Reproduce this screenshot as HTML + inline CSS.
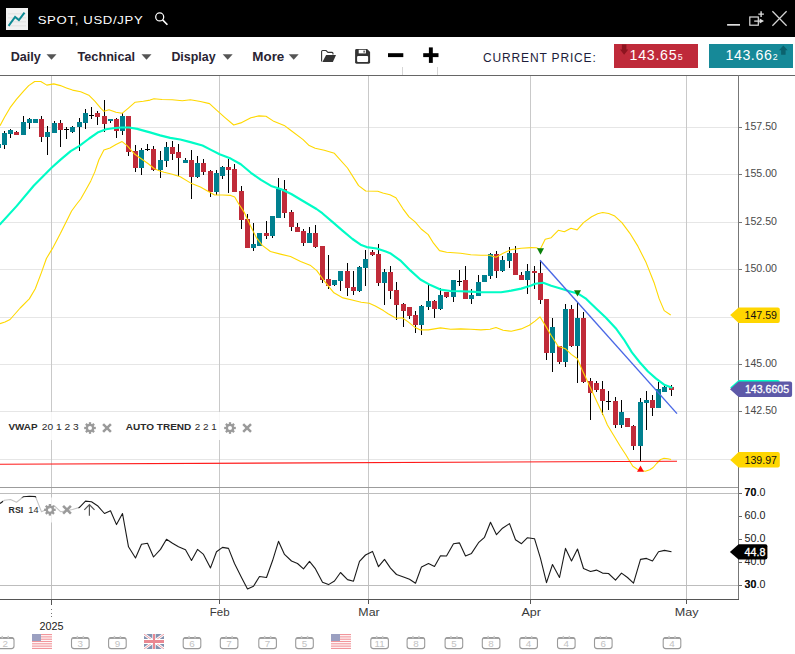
<!DOCTYPE html><html><head><meta charset="utf-8"><title>SPOT, USD/JPY</title>
<style>html,body{margin:0;padding:0;background:#fff;overflow:hidden}svg{display:block}text{font-family:"Liberation Sans",sans-serif}</style></head><body>
<svg width="795" height="654" viewBox="0 0 795 654">
<rect width="795" height="654" fill="#fff"/>
<g shape-rendering="crispEdges">
<rect x="0" y="127" width="738" height="1" fill="#e6e6e6"/>
<rect x="0" y="174" width="738" height="1" fill="#e6e6e6"/>
<rect x="0" y="222" width="738" height="1" fill="#e6e6e6"/>
<rect x="0" y="269" width="738" height="1" fill="#e6e6e6"/>
<rect x="0" y="317" width="738" height="1" fill="#e6e6e6"/>
<rect x="0" y="364" width="738" height="1" fill="#e6e6e6"/>
<rect x="0" y="411" width="738" height="1" fill="#e6e6e6"/>
<rect x="0" y="459" width="738" height="1" fill="#e6e6e6"/>
<rect x="51" y="76" width="1" height="411" fill="#c9c9c9"/>
<rect x="219" y="76" width="1" height="411" fill="#c9c9c9"/>
<rect x="368" y="76" width="1" height="411" fill="#c9c9c9"/>
<rect x="530" y="76" width="1" height="411" fill="#c9c9c9"/>
<rect x="686" y="76" width="1" height="411" fill="#c9c9c9"/>
<rect x="51" y="488" width="1" height="111" fill="#c0c0c0"/>
<rect x="219" y="488" width="1" height="111" fill="#c0c0c0"/>
<rect x="368" y="488" width="1" height="111" fill="#c0c0c0"/>
<rect x="530" y="488" width="1" height="111" fill="#c0c0c0"/>
<rect x="686" y="488" width="1" height="111" fill="#c0c0c0"/>
</g>
<g shape-rendering="crispEdges">
<rect x="-2" y="144" width="1" height="4" fill="#000"/>
<rect x="-4" y="144" width="5" height="4" fill="#00808f"/>
<rect x="4" y="131" width="1" height="18" fill="#000"/>
<rect x="2" y="133" width="5" height="12" fill="#00808f"/>
<rect x="10" y="129" width="1" height="9" fill="#000"/>
<rect x="8" y="130" width="5" height="4" fill="#00808f"/>
<rect x="16" y="131" width="1" height="4" fill="#000"/>
<rect x="14" y="132" width="5" height="3" fill="#c02b39"/>
<rect x="23" y="116" width="1" height="19" fill="#000"/>
<rect x="21" y="122" width="5" height="13" fill="#00808f"/>
<rect x="29" y="118" width="1" height="11" fill="#000"/>
<rect x="27" y="119" width="5" height="4" fill="#00808f"/>
<rect x="35" y="119" width="1" height="4" fill="#000"/>
<rect x="33" y="119" width="5" height="4" fill="#00808f"/>
<rect x="41" y="116" width="1" height="26" fill="#000"/>
<rect x="39" y="119" width="5" height="18" fill="#c02b39"/>
<rect x="47" y="126" width="1" height="29" fill="#000"/>
<rect x="45" y="132" width="5" height="5" fill="#00808f"/>
<rect x="54" y="121" width="1" height="12" fill="#000"/>
<rect x="52" y="123" width="5" height="10" fill="#00808f"/>
<rect x="60" y="120" width="1" height="27" fill="#000"/>
<rect x="58" y="123" width="5" height="7" fill="#c02b39"/>
<rect x="66" y="127" width="1" height="12" fill="#000"/>
<rect x="64" y="129" width="5" height="1" fill="#000"/>
<rect x="72" y="126" width="1" height="7" fill="#000"/>
<rect x="70" y="127" width="5" height="5" fill="#00808f"/>
<rect x="79" y="118" width="1" height="33" fill="#000"/>
<rect x="77" y="122" width="5" height="5" fill="#00808f"/>
<rect x="85" y="109" width="1" height="20" fill="#000"/>
<rect x="83" y="113" width="5" height="10" fill="#00808f"/>
<rect x="91" y="107" width="1" height="12" fill="#000"/>
<rect x="89" y="115" width="5" height="1" fill="#000"/>
<rect x="97" y="111" width="1" height="14" fill="#000"/>
<rect x="95" y="113" width="5" height="4" fill="#c02b39"/>
<rect x="104" y="100" width="1" height="32" fill="#000"/>
<rect x="102" y="116" width="5" height="8" fill="#c02b39"/>
<rect x="110" y="119" width="1" height="4" fill="#000"/>
<rect x="108" y="119" width="5" height="2" fill="#00808f"/>
<rect x="116" y="118" width="1" height="20" fill="#000"/>
<rect x="114" y="119" width="5" height="12" fill="#c02b39"/>
<rect x="122" y="113" width="1" height="22" fill="#000"/>
<rect x="120" y="116" width="5" height="15" fill="#00808f"/>
<rect x="128" y="116" width="1" height="40" fill="#000"/>
<rect x="126" y="116" width="5" height="36" fill="#c02b39"/>
<rect x="135" y="145" width="1" height="27" fill="#000"/>
<rect x="133" y="151" width="5" height="17" fill="#c02b39"/>
<rect x="141" y="148" width="1" height="27" fill="#000"/>
<rect x="139" y="150" width="5" height="18" fill="#00808f"/>
<rect x="147" y="144" width="1" height="7" fill="#000"/>
<rect x="145" y="149" width="5" height="1" fill="#000"/>
<rect x="153" y="146" width="1" height="25" fill="#000"/>
<rect x="151" y="149" width="5" height="21" fill="#c02b39"/>
<rect x="160" y="151" width="1" height="27" fill="#000"/>
<rect x="158" y="160" width="5" height="10" fill="#00808f"/>
<rect x="166" y="142" width="1" height="25" fill="#000"/>
<rect x="164" y="147" width="5" height="14" fill="#00808f"/>
<rect x="172" y="141" width="1" height="19" fill="#000"/>
<rect x="170" y="147" width="5" height="7" fill="#c02b39"/>
<rect x="178" y="144" width="1" height="32" fill="#000"/>
<rect x="176" y="152" width="5" height="6" fill="#c02b39"/>
<rect x="185" y="158" width="1" height="5" fill="#000"/>
<rect x="183" y="160" width="5" height="3" fill="#00808f"/>
<rect x="191" y="150" width="1" height="49" fill="#000"/>
<rect x="189" y="160" width="5" height="17" fill="#c02b39"/>
<rect x="197" y="156" width="1" height="22" fill="#000"/>
<rect x="195" y="163" width="5" height="14" fill="#00808f"/>
<rect x="203" y="159" width="1" height="16" fill="#000"/>
<rect x="201" y="163" width="5" height="9" fill="#c02b39"/>
<rect x="210" y="170" width="1" height="27" fill="#000"/>
<rect x="208" y="171" width="5" height="21" fill="#c02b39"/>
<rect x="216" y="170" width="1" height="25" fill="#000"/>
<rect x="214" y="173" width="5" height="19" fill="#00808f"/>
<rect x="222" y="166" width="1" height="13" fill="#000"/>
<rect x="220" y="167" width="5" height="9" fill="#00808f"/>
<rect x="228" y="159" width="1" height="34" fill="#000"/>
<rect x="226" y="167" width="5" height="3" fill="#c02b39"/>
<rect x="234" y="164" width="1" height="28" fill="#000"/>
<rect x="232" y="169" width="5" height="23" fill="#c02b39"/>
<rect x="241" y="186" width="1" height="43" fill="#000"/>
<rect x="239" y="191" width="5" height="29" fill="#c02b39"/>
<rect x="247" y="214" width="1" height="34" fill="#000"/>
<rect x="245" y="219" width="5" height="29" fill="#c02b39"/>
<rect x="253" y="223" width="1" height="28" fill="#000"/>
<rect x="251" y="244" width="5" height="4" fill="#00808f"/>
<rect x="259" y="233" width="1" height="13" fill="#000"/>
<rect x="257" y="233" width="5" height="13" fill="#00808f"/>
<rect x="266" y="221" width="1" height="18" fill="#000"/>
<rect x="264" y="233" width="5" height="3" fill="#c02b39"/>
<rect x="272" y="216" width="1" height="22" fill="#000"/>
<rect x="270" y="216" width="5" height="20" fill="#00808f"/>
<rect x="278" y="178" width="1" height="40" fill="#000"/>
<rect x="276" y="189" width="5" height="29" fill="#00808f"/>
<rect x="284" y="180" width="1" height="38" fill="#000"/>
<rect x="282" y="189" width="5" height="24" fill="#c02b39"/>
<rect x="291" y="210" width="1" height="21" fill="#000"/>
<rect x="289" y="212" width="5" height="15" fill="#c02b39"/>
<rect x="297" y="223" width="1" height="9" fill="#000"/>
<rect x="295" y="227" width="5" height="5" fill="#c02b39"/>
<rect x="303" y="229" width="1" height="17" fill="#000"/>
<rect x="301" y="231" width="5" height="12" fill="#c02b39"/>
<rect x="309" y="227" width="1" height="16" fill="#000"/>
<rect x="307" y="233" width="5" height="10" fill="#00808f"/>
<rect x="315" y="225" width="1" height="23" fill="#000"/>
<rect x="313" y="233" width="5" height="14" fill="#c02b39"/>
<rect x="322" y="246" width="1" height="37" fill="#000"/>
<rect x="320" y="246" width="5" height="34" fill="#c02b39"/>
<rect x="328" y="255" width="1" height="34" fill="#000"/>
<rect x="326" y="279" width="5" height="7" fill="#c02b39"/>
<rect x="334" y="280" width="1" height="6" fill="#000"/>
<rect x="332" y="280" width="5" height="5" fill="#00808f"/>
<rect x="340" y="271" width="1" height="20" fill="#000"/>
<rect x="338" y="271" width="5" height="10" fill="#00808f"/>
<rect x="347" y="263" width="1" height="33" fill="#000"/>
<rect x="345" y="271" width="5" height="17" fill="#c02b39"/>
<rect x="353" y="271" width="1" height="24" fill="#000"/>
<rect x="351" y="287" width="5" height="4" fill="#c02b39"/>
<rect x="359" y="266" width="1" height="26" fill="#000"/>
<rect x="357" y="267" width="5" height="24" fill="#00808f"/>
<rect x="365" y="250" width="1" height="36" fill="#000"/>
<rect x="363" y="259" width="5" height="9" fill="#00808f"/>
<rect x="372" y="250" width="1" height="6" fill="#000"/>
<rect x="370" y="252" width="5" height="3" fill="#c02b39"/>
<rect x="378" y="244" width="1" height="42" fill="#000"/>
<rect x="376" y="254" width="5" height="29" fill="#c02b39"/>
<rect x="384" y="269" width="1" height="36" fill="#000"/>
<rect x="382" y="272" width="5" height="11" fill="#00808f"/>
<rect x="390" y="266" width="1" height="33" fill="#000"/>
<rect x="388" y="272" width="5" height="19" fill="#c02b39"/>
<rect x="396" y="282" width="1" height="38" fill="#000"/>
<rect x="394" y="290" width="5" height="15" fill="#c02b39"/>
<rect x="403" y="303" width="1" height="24" fill="#000"/>
<rect x="401" y="304" width="5" height="7" fill="#c02b39"/>
<rect x="409" y="307" width="1" height="12" fill="#000"/>
<rect x="407" y="307" width="5" height="9" fill="#c02b39"/>
<rect x="415" y="311" width="1" height="22" fill="#000"/>
<rect x="413" y="315" width="5" height="10" fill="#c02b39"/>
<rect x="421" y="305" width="1" height="30" fill="#000"/>
<rect x="419" y="306" width="5" height="19" fill="#00808f"/>
<rect x="428" y="284" width="1" height="26" fill="#000"/>
<rect x="426" y="301" width="5" height="6" fill="#00808f"/>
<rect x="434" y="300" width="1" height="18" fill="#000"/>
<rect x="432" y="301" width="5" height="8" fill="#c02b39"/>
<rect x="440" y="288" width="1" height="22" fill="#000"/>
<rect x="438" y="295" width="5" height="14" fill="#00808f"/>
<rect x="446" y="292" width="1" height="6" fill="#000"/>
<rect x="444" y="292" width="5" height="5" fill="#c02b39"/>
<rect x="453" y="280" width="1" height="22" fill="#000"/>
<rect x="451" y="280" width="5" height="17" fill="#00808f"/>
<rect x="459" y="270" width="1" height="16" fill="#000"/>
<rect x="457" y="281" width="5" height="1" fill="#000"/>
<rect x="465" y="266" width="1" height="33" fill="#000"/>
<rect x="463" y="280" width="5" height="19" fill="#c02b39"/>
<rect x="471" y="289" width="1" height="15" fill="#000"/>
<rect x="469" y="295" width="5" height="4" fill="#00808f"/>
<rect x="478" y="275" width="1" height="21" fill="#000"/>
<rect x="476" y="282" width="5" height="14" fill="#00808f"/>
<rect x="484" y="275" width="1" height="7" fill="#000"/>
<rect x="482" y="275" width="5" height="7" fill="#00808f"/>
<rect x="490" y="253" width="1" height="26" fill="#000"/>
<rect x="488" y="254" width="5" height="22" fill="#00808f"/>
<rect x="496" y="251" width="1" height="27" fill="#000"/>
<rect x="494" y="254" width="5" height="17" fill="#c02b39"/>
<rect x="502" y="256" width="1" height="16" fill="#000"/>
<rect x="500" y="260" width="5" height="11" fill="#00808f"/>
<rect x="509" y="247" width="1" height="21" fill="#000"/>
<rect x="507" y="253" width="5" height="8" fill="#00808f"/>
<rect x="515" y="246" width="1" height="29" fill="#000"/>
<rect x="513" y="253" width="5" height="22" fill="#c02b39"/>
<rect x="521" y="272" width="1" height="8" fill="#000"/>
<rect x="519" y="275" width="5" height="5" fill="#c02b39"/>
<rect x="527" y="264" width="1" height="30" fill="#000"/>
<rect x="525" y="271" width="5" height="9" fill="#00808f"/>
<rect x="534" y="266" width="1" height="23" fill="#000"/>
<rect x="532" y="271" width="5" height="2" fill="#c02b39"/>
<rect x="540" y="260" width="1" height="44" fill="#000"/>
<rect x="538" y="273" width="5" height="27" fill="#c02b39"/>
<rect x="546" y="299" width="1" height="61" fill="#000"/>
<rect x="544" y="299" width="5" height="54" fill="#c02b39"/>
<rect x="552" y="318" width="1" height="54" fill="#000"/>
<rect x="550" y="327" width="5" height="26" fill="#00808f"/>
<rect x="559" y="346" width="1" height="18" fill="#000"/>
<rect x="557" y="346" width="5" height="16" fill="#c02b39"/>
<rect x="565" y="304" width="1" height="63" fill="#000"/>
<rect x="563" y="309" width="5" height="53" fill="#00808f"/>
<rect x="571" y="305" width="1" height="42" fill="#000"/>
<rect x="569" y="309" width="5" height="37" fill="#c02b39"/>
<rect x="577" y="302" width="1" height="81" fill="#000"/>
<rect x="575" y="318" width="5" height="28" fill="#00808f"/>
<rect x="583" y="312" width="1" height="71" fill="#000"/>
<rect x="581" y="318" width="5" height="64" fill="#c02b39"/>
<rect x="590" y="378" width="1" height="42" fill="#000"/>
<rect x="588" y="381" width="5" height="12" fill="#c02b39"/>
<rect x="596" y="381" width="1" height="11" fill="#000"/>
<rect x="594" y="383" width="5" height="7" fill="#c02b39"/>
<rect x="602" y="381" width="1" height="34" fill="#000"/>
<rect x="600" y="389" width="5" height="12" fill="#c02b39"/>
<rect x="608" y="391" width="1" height="19" fill="#000"/>
<rect x="606" y="401" width="5" height="1" fill="#000"/>
<rect x="615" y="397" width="1" height="31" fill="#000"/>
<rect x="613" y="401" width="5" height="24" fill="#c02b39"/>
<rect x="621" y="400" width="1" height="28" fill="#000"/>
<rect x="619" y="412" width="5" height="13" fill="#00808f"/>
<rect x="627" y="418" width="1" height="9" fill="#000"/>
<rect x="625" y="418" width="5" height="9" fill="#c02b39"/>
<rect x="633" y="425" width="1" height="25" fill="#000"/>
<rect x="631" y="426" width="5" height="20" fill="#c02b39"/>
<rect x="640" y="398" width="1" height="63" fill="#000"/>
<rect x="638" y="402" width="5" height="44" fill="#00808f"/>
<rect x="646" y="391" width="1" height="39" fill="#000"/>
<rect x="644" y="400" width="5" height="3" fill="#00808f"/>
<rect x="652" y="395" width="1" height="21" fill="#000"/>
<rect x="650" y="400" width="5" height="8" fill="#c02b39"/>
<rect x="658" y="382" width="1" height="26" fill="#000"/>
<rect x="656" y="389" width="5" height="19" fill="#00808f"/>
<rect x="664" y="386" width="1" height="6" fill="#000"/>
<rect x="662" y="387" width="5" height="5" fill="#00808f"/>
<rect x="671" y="385" width="1" height="11" fill="#000"/>
<rect x="669" y="387" width="5" height="3" fill="#c02b39"/>
</g>
<polyline points="0.0,125.8 4.5,117.3 10.1,107.7 16.6,99.2 23.6,91.1 28.7,85.6 34.7,81.5 40.8,81.5 46.8,85.1 53.8,83.9 60.4,85.6 66.4,87.9 72.5,90.1 80.7,91.7 88.8,95.2 94.8,101.2 100.9,108.3 103.9,111.3 109.0,109.7 116.0,112.3 122.1,113.3 128.1,108.3 135.2,102.2 143.3,101.2 150.0,100.1 154.0,98.7 162.1,99.5 172.2,99.7 182.3,100.7 190.4,99.7 200.4,101.5 209.5,103.6 216.6,110.2 224.7,117.3 233.7,125.0 240.8,122.9 250.9,117.7 259.0,115.9 266.0,116.3 273.1,120.9 284.2,125.4 290.0,129.7 303.1,139.6 309.2,145.6 315.2,148.2 324.3,150.3 334.4,153.3 347.5,168.0 358.6,185.6 365.7,191.0 377.8,191.2 382.8,193.0 389.9,194.7 395.9,197.7 403.0,208.8 409.0,216.9 415.1,221.9 421.2,229.0 428.2,234.6 433.5,243.2 439.5,250.6 446.6,252.2 460.7,253.2 470.8,254.7 480.9,255.3 489.0,255.3 496.0,257.3 503.1,253.2 511.2,249.6 521.2,248.2 531.3,247.6 536.4,247.8 540.1,249.4 545.2,239.3 551.2,237.7 558.3,230.3 564.3,231.7 571.0,228.2 577.1,229.9 583.5,222.6 591.6,216.7 597.6,213.7 602.7,212.5 608.7,213.5 614.8,216.1 621.9,222.6 629.9,233.3 638.0,246.4 646.1,262.6 654.1,282.7 659.2,298.9 664.2,310.6 670.7,315.0" fill="none" stroke="#ffd800" stroke-width="1.1" stroke-linejoin="round"/>
<polyline points="0.0,323.7 5.0,322.1 10.1,319.5 20.2,308.0 29.3,298.9 35.3,288.8 41.4,272.6 46.4,258.5 52.5,248.4 60.5,233.3 71.6,211.0 76.0,205.0 80.7,199.0 85.8,190.0 90.8,180.9 94.8,171.9 98.9,159.7 103.9,150.1 110.0,148.0 116.0,144.6 122.1,141.6 127.1,145.6 134.2,153.7 141.2,158.7 148.3,163.8 154.4,168.8 160.0,171.0 164.1,172.2 172.2,174.2 180.3,176.8 190.4,182.9 200.4,186.9 207.5,190.9 214.6,195.0 222.6,195.0 230.7,195.4 234.7,197.0 238.8,204.0 244.1,212.1 250.2,225.2 256.2,237.3 262.3,245.4 270.4,251.5 280.4,254.1 290.5,256.5 300.6,261.5 310.7,265.6 316.8,270.6 324.8,281.7 333.9,292.8 343.0,297.9 353.1,300.3 361.2,302.3 369.2,303.3 375.3,305.9 383.4,310.6 388.1,313.8 396.1,318.2 402.2,317.8 408.2,321.9 414.3,326.9 420.4,329.9 428.4,329.9 440.5,327.9 450.6,329.3 460.7,328.9 470.8,329.3 480.9,329.9 490.0,329.3 496.0,327.5 503.1,330.3 511.2,331.3 521.2,328.9 529.3,325.3 535.0,321.1 540.0,316.8 545.1,325.1 551.1,335.2 558.2,346.3 565.3,348.7 571.3,354.4 577.4,358.8 582.4,370.5 588.5,383.6 595.5,398.8 603.6,415.9 607.4,425.0 613.6,435.2 620.4,446.5 626.0,455.0 630.0,461.8 632.8,466.3 637.4,469.2 640.8,470.3 645.3,471.2 649.8,469.7 653.2,467.5 656.6,463.5 660.6,459.5 664.0,458.2 667.9,458.7 671.1,459.5" fill="none" stroke="#ffd800" stroke-width="1.1" stroke-linejoin="round"/>
<polyline points="0.0,224.4 16.8,205.9 33.7,185.7 51.3,168.0 60.6,159.6 70.7,151.1 79.1,146.1 89.2,138.5 97.6,132.6 106.1,129.3 113.0,128.3 121.1,127.5 129.1,127.5 137.2,128.9 145.3,131.1 150.0,132.4 160.1,135.4 170.2,137.9 180.3,139.5 190.4,142.1 202.5,145.5 210.5,149.6 219.6,154.2 230.7,158.6 240.8,164.3 250.9,172.8 261.0,179.8 271.1,185.9 281.2,189.3 291.3,194.0 301.3,200.0 316.5,209.0 322.3,213.2 332.4,221.9 342.5,230.6 352.5,239.0 360.6,244.7 366.7,247.1 376.8,248.5 385.8,251.6 390.1,253.2 400.2,260.3 410.3,270.4 420.4,279.5 430.4,285.1 440.5,289.6 450.6,291.0 460.7,291.2 470.8,291.6 480.9,292.2 491.0,292.2 501.1,292.2 511.2,290.6 521.2,288.6 531.3,285.5 535.1,283.7 543.2,282.7 551.2,285.8 561.3,288.8 569.4,291.2 578.5,293.8 585.5,298.3 595.6,308.0 605.7,317.5 615.7,328.2 623.8,339.3 631.9,352.4 639.9,362.5 648.0,371.5 656.1,378.6 664.1,384.7 671.5,387.5" fill="none" stroke="#00fcc6" stroke-width="2.15" stroke-linejoin="round" stroke-linecap="round"/>
<line x1="540" y1="260.2" x2="677" y2="413.6" stroke="#4a68e6" stroke-width="1.4"/>
<line x1="0" y1="464.3" x2="677" y2="461.2" stroke="#ff1a1a" stroke-width="1.1"/>
<polygon points="537,248.3 544,248.3 540.5,254.8" fill="#0a800a"/>
<polygon points="574,290.3 581,290.3 577.5,296.6" fill="#0a800a"/>
<polygon points="637,471.8 644,471.8 640.5,465.5" fill="#ff0a0a"/>
<rect x="3" y="412" width="112" height="28" fill="#fff" fill-opacity="0.85"/>
<rect x="120" y="412" width="136" height="28" fill="#fff" fill-opacity="0.85"/>
<text x="8.5" y="429.9" font-size="9.6" font-weight="bold" fill="#2b2b2b" textLength="29.1" lengthAdjust="spacingAndGlyphs">VWAP</text>
<text x="41.7" y="429.9" font-size="9.6" fill="#2b2b2b" textLength="37" lengthAdjust="spacingAndGlyphs">20 1 2 3</text>
<g transform="translate(90,428)" fill="#9a9a9a"><rect x="-1.15" y="-5.8" width="2.3" height="3" transform="rotate(0)"/><rect x="-1.15" y="-5.8" width="2.3" height="3" transform="rotate(45)"/><rect x="-1.15" y="-5.8" width="2.3" height="3" transform="rotate(90)"/><rect x="-1.15" y="-5.8" width="2.3" height="3" transform="rotate(135)"/><rect x="-1.15" y="-5.8" width="2.3" height="3" transform="rotate(180)"/><rect x="-1.15" y="-5.8" width="2.3" height="3" transform="rotate(225)"/><rect x="-1.15" y="-5.8" width="2.3" height="3" transform="rotate(270)"/><rect x="-1.15" y="-5.8" width="2.3" height="3" transform="rotate(315)"/><circle r="3.15" fill="none" stroke="#9a9a9a" stroke-width="2.3"/></g>
<g stroke="#9a9a9a" stroke-width="2.5" stroke-linecap="butt"><line x1="103.1" y1="424.1" x2="110.9" y2="431.9"/><line x1="103.1" y1="431.9" x2="110.9" y2="424.1"/></g>
<text x="125.8" y="429.9" font-size="9.6" font-weight="bold" fill="#2b2b2b" textLength="65.5" lengthAdjust="spacingAndGlyphs">AUTO TREND</text>
<text x="194.8" y="429.9" font-size="9.6" fill="#2b2b2b" textLength="22" lengthAdjust="spacingAndGlyphs">2 2 1</text>
<g transform="translate(230,428)" fill="#9a9a9a"><rect x="-1.15" y="-5.8" width="2.3" height="3" transform="rotate(0)"/><rect x="-1.15" y="-5.8" width="2.3" height="3" transform="rotate(45)"/><rect x="-1.15" y="-5.8" width="2.3" height="3" transform="rotate(90)"/><rect x="-1.15" y="-5.8" width="2.3" height="3" transform="rotate(135)"/><rect x="-1.15" y="-5.8" width="2.3" height="3" transform="rotate(180)"/><rect x="-1.15" y="-5.8" width="2.3" height="3" transform="rotate(225)"/><rect x="-1.15" y="-5.8" width="2.3" height="3" transform="rotate(270)"/><rect x="-1.15" y="-5.8" width="2.3" height="3" transform="rotate(315)"/><circle r="3.15" fill="none" stroke="#9a9a9a" stroke-width="2.3"/></g>
<g stroke="#9a9a9a" stroke-width="2.5" stroke-linecap="butt"><line x1="243.2" y1="424.1" x2="251.0" y2="431.9"/><line x1="243.2" y1="431.9" x2="251.0" y2="424.1"/></g>
<g shape-rendering="crispEdges">
<rect x="0" y="487" width="738" height="1" fill="#9c9c9c"/>
<rect x="0" y="493" width="738" height="1" fill="#bdbdbd"/>
<rect x="0" y="585" width="738" height="1" fill="#bdbdbd"/>
</g>
<polyline points="0.0,503.5 4.5,500.3 10.5,499.5 16.5,502.2 23.5,496.7 29.5,496.3 35.5,496.6 41.5,511.8 47.5,508.9 54.5,505.8 60.5,511.7 66.5,510.8 72.5,509.5 79.5,507.4 85.5,501.1 91.5,501.7 97.5,505.7 104.5,513.5 110.5,510.7 116.5,524.6 122.5,513.5 128.5,546.8 135.5,558.0 141.5,544.3 147.5,543.3 153.5,557.0 160.5,549.4 166.5,539.3 172.5,543.3 178.5,546.8 185.5,549.8 191.5,560.4 197.5,549.4 203.5,554.4 210.5,567.9 216.5,551.8 222.5,547.4 228.5,548.4 234.5,563.5 241.5,577.5 247.5,589.0 253.5,586.2 259.5,576.5 266.5,577.5 272.5,560.8 278.5,541.3 284.5,554.4 291.5,561.0 297.5,563.5 303.5,568.9 309.5,561.4 315.5,568.9 322.5,582.2 328.5,584.6 334.5,581.0 340.5,572.5 347.5,579.6 353.5,581.2 359.5,561.4 365.5,555.0 372.5,551.4 378.5,566.7 384.5,559.4 390.5,568.1 396.5,574.5 403.5,576.9 409.5,579.2 415.5,583.2 421.5,566.9 428.5,563.5 434.5,566.5 440.5,555.8 446.5,556.0 453.5,543.7 459.5,542.9 465.5,556.0 471.5,553.4 478.5,542.7 484.5,537.3 490.5,522.2 496.5,534.7 502.5,528.2 509.5,523.6 515.5,539.7 521.5,543.7 527.5,537.7 534.5,538.7 540.5,558.4 546.5,582.6 552.5,564.5 559.5,577.5 565.5,548.4 571.5,561.0 577.5,549.0 583.5,568.5 590.5,571.5 596.5,570.1 602.5,573.1 608.5,573.5 615.5,580.2 621.5,573.1 627.5,577.5 633.5,583.2 640.5,559.4 646.5,558.4 652.5,561.0 658.5,551.8 664.5,550.4 671.5,551.8" fill="none" stroke="#1a1a1a" stroke-width="1.1" stroke-linejoin="round"/>
<rect x="3" y="497.5" width="75.5" height="25" fill="#fff" fill-opacity="0.74"/>
<text x="8.6" y="512.9" font-size="9.6" font-weight="bold" fill="#2b2b2b" textLength="14.7" lengthAdjust="spacingAndGlyphs">RSI</text>
<text x="28.3" y="512.9" font-size="9.6" fill="#2b2b2b" textLength="10.2" lengthAdjust="spacingAndGlyphs">14</text>
<g transform="translate(49.9,509.8)" fill="#9a9a9a"><rect x="-1.15" y="-5.8" width="2.3" height="3" transform="rotate(0)"/><rect x="-1.15" y="-5.8" width="2.3" height="3" transform="rotate(45)"/><rect x="-1.15" y="-5.8" width="2.3" height="3" transform="rotate(90)"/><rect x="-1.15" y="-5.8" width="2.3" height="3" transform="rotate(135)"/><rect x="-1.15" y="-5.8" width="2.3" height="3" transform="rotate(180)"/><rect x="-1.15" y="-5.8" width="2.3" height="3" transform="rotate(225)"/><rect x="-1.15" y="-5.8" width="2.3" height="3" transform="rotate(270)"/><rect x="-1.15" y="-5.8" width="2.3" height="3" transform="rotate(315)"/><circle r="3.15" fill="none" stroke="#9a9a9a" stroke-width="2.3"/></g>
<g stroke="#9a9a9a" stroke-width="2.5" stroke-linecap="butt"><line x1="63.1" y1="505.90000000000003" x2="70.9" y2="513.7"/><line x1="63.1" y1="513.7" x2="70.9" y2="505.90000000000003"/></g>
<path d="M89.4 515.8V504.6M84.3 509.9L89.4 504.6L94.5 509.9" fill="none" stroke="#555" stroke-width="1.2"/>
<g shape-rendering="crispEdges">
<rect x="0" y="75" width="795" height="1" fill="#666"/>
<rect x="738" y="75" width="1" height="525" fill="#777"/>
<rect x="0" y="599" width="739" height="1" fill="#555"/>
<rect x="739" y="127" width="3" height="1" fill="#777"/>
<rect x="739" y="174" width="3" height="1" fill="#777"/>
<rect x="739" y="222" width="3" height="1" fill="#777"/>
<rect x="739" y="269" width="3" height="1" fill="#777"/>
<rect x="739" y="317" width="3" height="1" fill="#777"/>
<rect x="739" y="364" width="3" height="1" fill="#777"/>
<rect x="739" y="411" width="3" height="1" fill="#777"/>
<rect x="739" y="459" width="3" height="1" fill="#777"/>
<rect x="739" y="493" width="3" height="1" fill="#666"/>
<rect x="739" y="516" width="3" height="1" fill="#666"/>
<rect x="739" y="539" width="3" height="1" fill="#666"/>
<rect x="739" y="562" width="3" height="1" fill="#666"/>
<rect x="739" y="585" width="3" height="1" fill="#666"/>
<rect x="51" y="600" width="1" height="5" fill="#555"/>
<rect x="219" y="600" width="1" height="4" fill="#555"/>
<rect x="368" y="600" width="1" height="4" fill="#555"/>
<rect x="530" y="600" width="1" height="4" fill="#555"/>
<rect x="686" y="600" width="1" height="4" fill="#555"/>
</g>
<g fill="#777" shape-rendering="crispEdges"><rect x="51" y="609" width="1" height="1"/><rect x="51" y="613" width="1" height="1"/><rect x="51" y="616" width="1" height="1"/></g>
<rect x="402" y="67" width="1" height="8" fill="#d6d6d6"/><rect x="437" y="67" width="1" height="8" fill="#d6d6d6"/>
<text x="744.6" y="129.9" font-size="10.6" fill="#4a4a4a" textLength="32.4" lengthAdjust="spacingAndGlyphs">157.50</text>
<text x="744.6" y="176.9" font-size="10.6" fill="#4a4a4a" textLength="32.4" lengthAdjust="spacingAndGlyphs">155.00</text>
<text x="744.6" y="224.9" font-size="10.6" fill="#4a4a4a" textLength="32.4" lengthAdjust="spacingAndGlyphs">152.50</text>
<text x="744.6" y="271.9" font-size="10.6" fill="#4a4a4a" textLength="32.4" lengthAdjust="spacingAndGlyphs">150.00</text>
<text x="744.6" y="319.9" font-size="10.6" fill="#4a4a4a" textLength="32.4" lengthAdjust="spacingAndGlyphs">147.50</text>
<text x="744.6" y="366.9" font-size="10.6" fill="#4a4a4a" textLength="32.4" lengthAdjust="spacingAndGlyphs">145.00</text>
<text x="744.6" y="413.9" font-size="10.6" fill="#4a4a4a" textLength="32.4" lengthAdjust="spacingAndGlyphs">142.50</text>
<text x="744.6" y="461.9" font-size="10.6" fill="#4a4a4a" textLength="32.4" lengthAdjust="spacingAndGlyphs">140.00</text>
<text x="744.6" y="495.8" font-size="10.6" fill="#222" textLength="20.8" lengthAdjust="spacingAndGlyphs">70.0</text>
<text x="744.6" y="518.8" font-size="10.6" fill="#222" textLength="20.8" lengthAdjust="spacingAndGlyphs">60.0</text>
<text x="744.6" y="541.8" font-size="10.6" fill="#222" textLength="20.8" lengthAdjust="spacingAndGlyphs">50.0</text>
<text x="744.6" y="564.8" font-size="10.6" fill="#222" textLength="20.8" lengthAdjust="spacingAndGlyphs">40.0</text>
<text x="744.6" y="587.8" font-size="10.6" fill="#222" textLength="20.8" lengthAdjust="spacingAndGlyphs">30.0</text>
<text x="744.6" y="496.2" font-size="10.6" font-weight="bold" fill="#111" textLength="11.6" lengthAdjust="spacingAndGlyphs">70</text>
<text x="744.6" y="587.8" font-size="10.6" font-weight="bold" fill="#111" textLength="11.6" lengthAdjust="spacingAndGlyphs">30</text>
<path d="M730.2 315.1L738.6 307.4H777.8Q779.8 307.4 779.8 309.4V320.9Q779.8 322.9 777.8 322.9H738.6Z" fill="#ffd600"/>
<text x="744.6" y="319" font-size="10.6" fill="#111" textLength="32.4" lengthAdjust="spacingAndGlyphs">147.59</text>
<path d="M730.2 459.9L738.6 452.1H777.8Q779.8 452.1 779.8 454.1V465.6Q779.8 467.6 777.8 467.6H738.6Z" fill="#ffd600"/>
<text x="744.6" y="463.7" font-size="10.6" fill="#111" textLength="32.4" lengthAdjust="spacingAndGlyphs">139.97</text>
<path d="M730.2 387.6L738.6 379.9H777.8Q779.8 379.9 779.8 381.9V393.4Q779.8 395.4 777.8 395.4H738.6Z" fill="#00fcc6"/>
<path d="M730 389.3L738.6 381.5H790.1Q792.1 381.5 792.1 383.5V395.1Q792.1 397.1 790.1 397.1H738.6Z" fill="#5d59a8"/>
<text x="745" y="393.2" font-size="10.6" fill="#fff" stroke="#fff" stroke-width="0.3" textLength="44" lengthAdjust="spacingAndGlyphs">143.6605</text>
<path d="M729.9 551.9L738.6 544.2H765.4Q767.4 544.2 767.4 546.2V557.6Q767.4 559.6 765.4 559.6H738.6Z" fill="#000"/>
<text x="744.6" y="555.8" font-size="10.6" fill="#fff" stroke="#fff" stroke-width="0.3" textLength="20.8" lengthAdjust="spacingAndGlyphs">44.8</text>
<text x="219.7" y="616.2" font-size="11.5" fill="#3a3a3a" text-anchor="middle" textLength="19.8" lengthAdjust="spacingAndGlyphs">Feb</text>
<text x="369" y="616.2" font-size="11.5" fill="#3a3a3a" text-anchor="middle" textLength="21.3" lengthAdjust="spacingAndGlyphs">Mar</text>
<text x="531.2" y="616.2" font-size="11.5" fill="#3a3a3a" text-anchor="middle" textLength="19.5" lengthAdjust="spacingAndGlyphs">Apr</text>
<text x="686.6" y="616.2" font-size="11.5" fill="#3a3a3a" text-anchor="middle" textLength="23.8" lengthAdjust="spacingAndGlyphs">May</text>
<text x="51.6" y="629.7" font-size="10.6" fill="#222" text-anchor="middle" textLength="24" lengthAdjust="spacingAndGlyphs">2025</text>
<g><rect x="-3.60" y="637.6" width="17.6" height="11" rx="2.6" fill="#fff" stroke="#9a9a9a" stroke-width="1.1"/><rect x="-2.60" y="637.4" width="15.6" height="1.5" fill="#9a9a9a"/><rect x="1.50" y="635.9" width="1.5" height="2.4" fill="#c8c8c8"/><rect x="7.50" y="635.9" width="1.5" height="2.4" fill="#c8c8c8"/><text x="5.2" y="646.7" font-size="9.8" fill="#c2c2c2" text-anchor="middle">2</text></g>
<g opacity="0.55"><rect x="32" y="634" width="20" height="15" fill="#fff"/><rect x="32" y="634.00" width="20" height="1.154" fill="#e8404a"/><rect x="32" y="636.31" width="20" height="1.154" fill="#e8404a"/><rect x="32" y="638.62" width="20" height="1.154" fill="#e8404a"/><rect x="32" y="640.92" width="20" height="1.154" fill="#e8404a"/><rect x="32" y="643.23" width="20" height="1.154" fill="#e8404a"/><rect x="32" y="645.54" width="20" height="1.154" fill="#e8404a"/><rect x="32" y="647.85" width="20" height="1.154" fill="#e8404a"/><rect x="32" y="634" width="9" height="7" fill="#4a538f"/></g>
<g><rect x="71.50" y="637.6" width="17.6" height="11" rx="2.6" fill="#fff" stroke="#9a9a9a" stroke-width="1.1"/><rect x="72.50" y="637.4" width="15.6" height="1.5" fill="#9a9a9a"/><rect x="76.60" y="635.9" width="1.5" height="2.4" fill="#c8c8c8"/><rect x="82.60" y="635.9" width="1.5" height="2.4" fill="#c8c8c8"/><text x="80.3" y="646.7" font-size="9.8" fill="#c2c2c2" text-anchor="middle">3</text></g>
<g><rect x="108.60" y="637.6" width="17.6" height="11" rx="2.6" fill="#fff" stroke="#9a9a9a" stroke-width="1.1"/><rect x="109.60" y="637.4" width="15.6" height="1.5" fill="#9a9a9a"/><rect x="113.70" y="635.9" width="1.5" height="2.4" fill="#c8c8c8"/><rect x="119.70" y="635.9" width="1.5" height="2.4" fill="#c8c8c8"/><text x="117.39999999999999" y="646.7" font-size="9.8" fill="#c2c2c2" text-anchor="middle">9</text></g>
<g opacity="0.55"><svg x="144" y="634" width="20" height="15" viewBox="0 0 60 30" preserveAspectRatio="none"><rect width="60" height="30" fill="#1f3a70"/><path d="M0 0L60 30M60 0L0 30" stroke="#fff" stroke-width="6"/><path d="M0 0L60 30M60 0L0 30" stroke="#d8283a" stroke-width="2"/><path d="M30 0V30M0 15H60" stroke="#fff" stroke-width="10"/><path d="M30 0V30M0 15H60" stroke="#d8283a" stroke-width="6"/></svg></g>
<g><rect x="183.20" y="637.6" width="17.6" height="11" rx="2.6" fill="#fff" stroke="#9a9a9a" stroke-width="1.1"/><rect x="184.20" y="637.4" width="15.6" height="1.5" fill="#9a9a9a"/><rect x="188.30" y="635.9" width="1.5" height="2.4" fill="#c8c8c8"/><rect x="194.30" y="635.9" width="1.5" height="2.4" fill="#c8c8c8"/><text x="192.0" y="646.7" font-size="9.8" fill="#c2c2c2" text-anchor="middle">6</text></g>
<g><rect x="220.30" y="637.6" width="17.6" height="11" rx="2.6" fill="#fff" stroke="#9a9a9a" stroke-width="1.1"/><rect x="221.30" y="637.4" width="15.6" height="1.5" fill="#9a9a9a"/><rect x="225.40" y="635.9" width="1.5" height="2.4" fill="#c8c8c8"/><rect x="231.40" y="635.9" width="1.5" height="2.4" fill="#c8c8c8"/><text x="229.10000000000002" y="646.7" font-size="9.8" fill="#c2c2c2" text-anchor="middle">7</text></g>
<g><rect x="258.80" y="637.6" width="17.6" height="11" rx="2.6" fill="#fff" stroke="#9a9a9a" stroke-width="1.1"/><rect x="259.80" y="637.4" width="15.6" height="1.5" fill="#9a9a9a"/><rect x="263.90" y="635.9" width="1.5" height="2.4" fill="#c8c8c8"/><rect x="269.90" y="635.9" width="1.5" height="2.4" fill="#c8c8c8"/><text x="267.6" y="646.7" font-size="9.8" fill="#c2c2c2" text-anchor="middle">7</text></g>
<g><rect x="295.70" y="637.6" width="17.6" height="11" rx="2.6" fill="#fff" stroke="#9a9a9a" stroke-width="1.1"/><rect x="296.70" y="637.4" width="15.6" height="1.5" fill="#9a9a9a"/><rect x="300.80" y="635.9" width="1.5" height="2.4" fill="#c8c8c8"/><rect x="306.80" y="635.9" width="1.5" height="2.4" fill="#c8c8c8"/><text x="304.5" y="646.7" font-size="9.8" fill="#c2c2c2" text-anchor="middle">5</text></g>
<g opacity="0.55"><rect x="331" y="634" width="20" height="15" fill="#fff"/><rect x="331" y="634.00" width="20" height="1.154" fill="#e8404a"/><rect x="331" y="636.31" width="20" height="1.154" fill="#e8404a"/><rect x="331" y="638.62" width="20" height="1.154" fill="#e8404a"/><rect x="331" y="640.92" width="20" height="1.154" fill="#e8404a"/><rect x="331" y="643.23" width="20" height="1.154" fill="#e8404a"/><rect x="331" y="645.54" width="20" height="1.154" fill="#e8404a"/><rect x="331" y="647.85" width="20" height="1.154" fill="#e8404a"/><rect x="331" y="634" width="9" height="7" fill="#4a538f"/></g>
<g><rect x="370.80" y="637.6" width="17.6" height="11" rx="2.6" fill="#fff" stroke="#9a9a9a" stroke-width="1.1"/><rect x="371.80" y="637.4" width="15.6" height="1.5" fill="#9a9a9a"/><rect x="375.90" y="635.9" width="1.5" height="2.4" fill="#c8c8c8"/><rect x="381.90" y="635.9" width="1.5" height="2.4" fill="#c8c8c8"/><text x="379.6" y="646.7" font-size="9.8" fill="#c2c2c2" text-anchor="middle">11</text></g>
<g><rect x="407.10" y="637.6" width="17.6" height="11" rx="2.6" fill="#fff" stroke="#9a9a9a" stroke-width="1.1"/><rect x="408.10" y="637.4" width="15.6" height="1.5" fill="#9a9a9a"/><rect x="412.20" y="635.9" width="1.5" height="2.4" fill="#c8c8c8"/><rect x="418.20" y="635.9" width="1.5" height="2.4" fill="#c8c8c8"/><text x="415.90000000000003" y="646.7" font-size="9.8" fill="#c2c2c2" text-anchor="middle">8</text></g>
<g><rect x="445.10" y="637.6" width="17.6" height="11" rx="2.6" fill="#fff" stroke="#9a9a9a" stroke-width="1.1"/><rect x="446.10" y="637.4" width="15.6" height="1.5" fill="#9a9a9a"/><rect x="450.20" y="635.9" width="1.5" height="2.4" fill="#c8c8c8"/><rect x="456.20" y="635.9" width="1.5" height="2.4" fill="#c8c8c8"/><text x="453.90000000000003" y="646.7" font-size="9.8" fill="#c2c2c2" text-anchor="middle">5</text></g>
<g><rect x="482.30" y="637.6" width="17.6" height="11" rx="2.6" fill="#fff" stroke="#9a9a9a" stroke-width="1.1"/><rect x="483.30" y="637.4" width="15.6" height="1.5" fill="#9a9a9a"/><rect x="487.40" y="635.9" width="1.5" height="2.4" fill="#c8c8c8"/><rect x="493.40" y="635.9" width="1.5" height="2.4" fill="#c8c8c8"/><text x="491.1" y="646.7" font-size="9.8" fill="#c2c2c2" text-anchor="middle">8</text></g>
<g><rect x="519.80" y="637.6" width="17.6" height="11" rx="2.6" fill="#fff" stroke="#9a9a9a" stroke-width="1.1"/><rect x="520.80" y="637.4" width="15.6" height="1.5" fill="#9a9a9a"/><rect x="524.90" y="635.9" width="1.5" height="2.4" fill="#c8c8c8"/><rect x="530.90" y="635.9" width="1.5" height="2.4" fill="#c8c8c8"/><text x="528.5999999999999" y="646.7" font-size="9.8" fill="#c2c2c2" text-anchor="middle">4</text></g>
<g><rect x="557.50" y="637.6" width="17.6" height="11" rx="2.6" fill="#fff" stroke="#9a9a9a" stroke-width="1.1"/><rect x="558.50" y="637.4" width="15.6" height="1.5" fill="#9a9a9a"/><rect x="562.60" y="635.9" width="1.5" height="2.4" fill="#c8c8c8"/><rect x="568.60" y="635.9" width="1.5" height="2.4" fill="#c8c8c8"/><text x="566.3" y="646.7" font-size="9.8" fill="#c2c2c2" text-anchor="middle">4</text></g>
<g><rect x="594.50" y="637.6" width="17.6" height="11" rx="2.6" fill="#fff" stroke="#9a9a9a" stroke-width="1.1"/><rect x="595.50" y="637.4" width="15.6" height="1.5" fill="#9a9a9a"/><rect x="599.60" y="635.9" width="1.5" height="2.4" fill="#c8c8c8"/><rect x="605.60" y="635.9" width="1.5" height="2.4" fill="#c8c8c8"/><text x="603.3" y="646.7" font-size="9.8" fill="#c2c2c2" text-anchor="middle">6</text></g>
<g><rect x="663.20" y="637.6" width="17.6" height="11" rx="2.6" fill="#fff" stroke="#9a9a9a" stroke-width="1.1"/><rect x="664.20" y="637.4" width="15.6" height="1.5" fill="#9a9a9a"/><rect x="668.30" y="635.9" width="1.5" height="2.4" fill="#c8c8c8"/><rect x="674.30" y="635.9" width="1.5" height="2.4" fill="#c8c8c8"/><text x="672.0" y="646.7" font-size="9.8" fill="#c2c2c2" text-anchor="middle">4</text></g>
<rect x="0" y="0" width="795" height="37" fill="#000"/>
<rect x="6" y="8" width="22" height="22" fill="#f1f1f1"/>
<rect x="8" y="13.5" width="18" height="0.8" fill="#dcdcdc"/>
<rect x="8" y="17.5" width="18" height="0.8" fill="#dcdcdc"/>
<rect x="8" y="21.5" width="18" height="0.8" fill="#dcdcdc"/>
<rect x="8" y="25.5" width="18" height="0.8" fill="#dcdcdc"/>
<polyline points="8.6,25.8 15.1,17 18.9,20.1 24.5,12.6" fill="none" stroke="#0e8a94" stroke-width="2"/>
<text x="37.7" y="23.7" font-size="11.6" letter-spacing="0.6" fill="#fff" textLength="105.7" lengthAdjust="spacingAndGlyphs">SPOT, USD/JPY</text>
<circle cx="159.7" cy="16.9" r="4" fill="none" stroke="#fff" stroke-width="1.25"/><line x1="162.6" y1="19.9" x2="167.4" y2="24.8" stroke="#fff" stroke-width="1.6"/>
<rect x="727.1" y="24" width="12.9" height="1.7" fill="#ddd"/>
<rect x="749.8" y="17" width="8.5" height="8.2" fill="none" stroke="#ddd" stroke-width="1.2"/>
<path d="M754.2 21.1H760" stroke="#ddd" stroke-width="1.3" fill="none"/><path d="M759.6 18.6L764 21.1L759.6 23.6Z" fill="#ddd"/>
<path d="M758.3 14.1H763.9M761.1 11.3V16.9" stroke="#ddd" stroke-width="1.4" fill="none"/>
<path d="M772.4 11.3L786.6 25.7M786.6 11.3L772.4 25.7" stroke="#d4d4d4" stroke-width="1.25" fill="none"/>
<text x="10.7" y="60.9" font-size="12.5" font-weight="bold" fill="#2a2433" textLength="30.2" lengthAdjust="spacingAndGlyphs">Daily</text>
<polygon points="46.5,54.3 56.5,54.3 51.5,59.8" fill="#555"/>
<text x="77.5" y="60.9" font-size="12.5" font-weight="bold" fill="#2a2433" textLength="57.5" lengthAdjust="spacingAndGlyphs">Technical</text>
<polygon points="141.5,54.3 151.5,54.3 146.5,59.8" fill="#555"/>
<text x="171.4" y="60.9" font-size="12.5" font-weight="bold" fill="#2a2433" textLength="44.2" lengthAdjust="spacingAndGlyphs">Display</text>
<polygon points="222.7,54.3 232.7,54.3 227.7,59.8" fill="#555"/>
<text x="252.3" y="60.9" font-size="12.5" font-weight="bold" fill="#2a2433" textLength="32" lengthAdjust="spacingAndGlyphs">More</text>
<polygon points="288.7,54.3 298.7,54.3 293.7,59.8" fill="#555"/>
<path d="M321.6 61.6V51.6Q321.6 50.5 322.7 50.5H326L328 52.4H332Q333 52.4 333 53.4V54.6" fill="none" stroke="#333" stroke-width="1.1"/><path d="M326.1 54.9H336L332.9 62H322.4z" fill="#333"/>
<g><path d="M355.1 50.4q0-1.4 1.4-1.4h10.6l3 3v10.3q0 1.4-1.4 1.4h-12.2q-1.4 0-1.4-1.4z" fill="#333"/><rect x="358.7" y="49.8" width="7.2" height="3.6" fill="#fff"/><rect x="363.5" y="50.6" width="1.2" height="2" fill="#333"/><rect x="357.1" y="56.1" width="11" height="5.8" rx="1" fill="#fff"/></g>
<rect x="388" y="53.2" width="15.3" height="3.9" fill="#000"/>
<rect x="423.2" y="53.2" width="15.3" height="3.9" fill="#000"/><rect x="428.9" y="47.4" width="3.9" height="15.5" fill="#000"/>
<text x="483.1" y="61.7" font-size="12" fill="#1d1d3a" textLength="112.7" lengthAdjust="spacing">CURRENT PRICE:</text>
<rect x="614" y="44" width="84" height="24" fill="#bf2a3a"/>
<rect x="709" y="44" width="84" height="24" fill="#168998"/>
<path d="M621.9 44.6h4.5v5h1.9l-4.15 5.2l-4.15-5.2h1.9z" fill="#8c141f"/>
<path d="M781.1 54.8h4.5v-4.6h2.1l-4.35-4.7l-4.35 4.7h2.1z" fill="#0b626e"/>
<text x="629.6" y="59.8" font-size="14.2" fill="#fff" textLength="47" lengthAdjust="spacing">143.65</text><text x="677.8" y="59.8" font-size="8.8" fill="#fff">5</text>
<text x="725.4" y="59.8" font-size="14.2" fill="#fff" textLength="46.4" lengthAdjust="spacing">143.66</text><text x="772.8" y="59.8" font-size="8.8" fill="#fff">2</text>
</svg></body></html>
